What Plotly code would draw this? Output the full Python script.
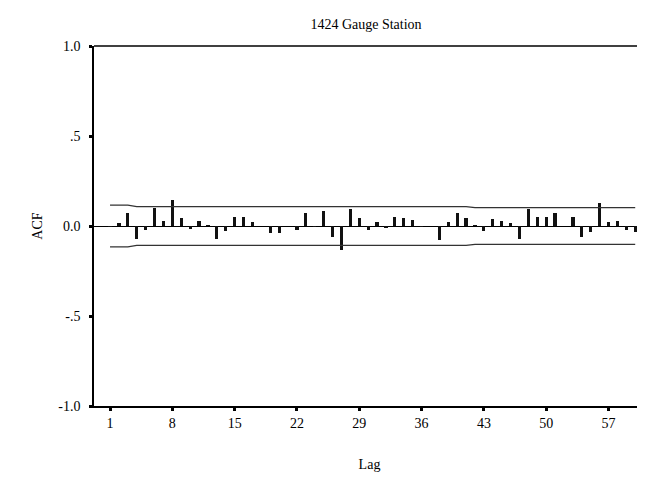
import plotly.graph_objects as go

lags = list(range(1, 61))
acf = [
    -0.005, 0.015, 0.074, -0.070, -0.023, 0.102, 0.030, 0.144, 0.044, -0.019,
    0.030, 0.004, -0.070, -0.026, 0.051, 0.051, 0.022, 0.000, -0.038, -0.037,
    0.000, -0.022, 0.074, -0.003, 0.086, -0.063, -0.134, 0.094, 0.044, -0.020,
    0.022, -0.011, 0.051, 0.044, 0.036, -0.005, 0.000, -0.079, 0.024, 0.073,
    0.044, 0.005, -0.027, 0.037, 0.030, 0.015, -0.070, 0.094, 0.051, 0.051,
    0.072, 0.000, 0.050, -0.063, -0.032, 0.130, 0.022, 0.030, -0.020, -0.032,
]
conf = [0.116] * 3 + [0.108] * 38 + [0.102] * 19
upper = conf
lower = [-c for c in conf]

x_ticks = [1, 8, 15, 22, 29, 36, 43, 50, 57]
x_ticktext = [str(v) for v in x_ticks]
y_ticks = [-1.0, -0.5, 0.0, 0.5, 1.0]
y_ticktext = ["-1.0", "-.5", "0.0", ".5", "1.0"]

font = "Liberation Serif, Times New Roman, serif"

W, H = 637, 473  # page body adds an 8px margin

fig = go.Figure()
fig.add_trace(go.Bar(x=lags, y=acf, width=0.36,
                     marker=dict(color="#111111", line=dict(width=0)),
                     showlegend=False))
fig.add_trace(go.Scatter(x=lags, y=upper, mode="lines",
                         line=dict(color="#333333", width=1.3), showlegend=False))
fig.add_trace(go.Scatter(x=lags, y=lower, mode="lines",
                         line=dict(color="#333333", width=1.3), showlegend=False))

fig.update_layout(
    width=W, height=H,
    margin=dict(l=86, r=0, t=38, b=75),
    plot_bgcolor="white", paper_bgcolor="white",
    font=dict(family=font, size=14, color="black"),
    title=dict(text="1424 Gauge Station", x=358 / W, xanchor="center",
               y=1 - 16 / H, yanchor="middle",
               font=dict(family=font, size=14, color="black")),
    bargap=0,
    shapes=[dict(type="line", xref="paper", yref="paper", x0=0, x1=1, y0=1, y1=1,
                 line=dict(color="black", width=1.5))],
)
fig.update_xaxes(
    range=[-0.8, 61.1], tickvals=x_ticks, ticktext=x_ticktext,
    showline=True, linecolor="black", linewidth=1.5,
    ticks="outside", ticklen=3, tickwidth=3, tickcolor="black",
    showgrid=False, zeroline=False,
    title=dict(text="Lag", standoff=30, font=dict(family=font, size=14)),
    tickfont=dict(family=font, size=14),
)
fig.update_yaxes(
    range=[-1, 1], tickvals=y_ticks, ticktext=y_ticktext,
    showline=True, linecolor="black", linewidth=1.5,
    ticks="outside", ticklen=3, tickwidth=3, tickcolor="black",
    ticklabelstandoff=6,
    showgrid=False, zeroline=True, zerolinecolor="black", zerolinewidth=1.2,
    title=dict(text="ACF", standoff=12, font=dict(family=font, size=14)),
    tickfont=dict(family=font, size=14),
)

fig.write_html("out.html")
